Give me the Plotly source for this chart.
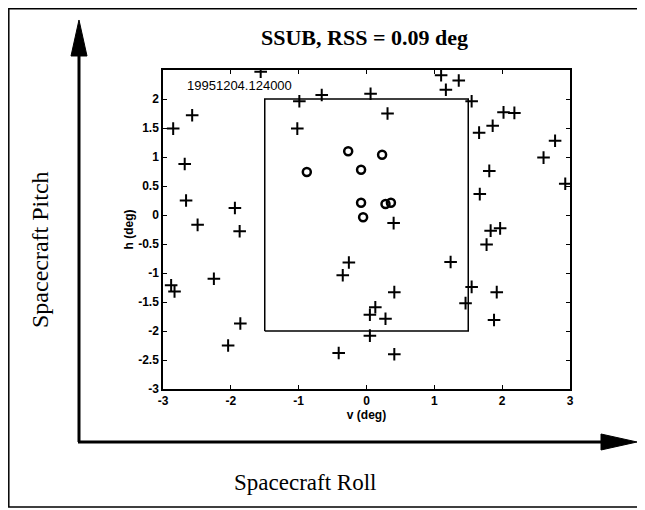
import plotly.graph_objects as go

# ---- data ----
plus_v = [-1.56, 1.10, 1.36, 1.17, -0.99, -0.66, 0.06, 0.31, 1.55, 2.02, 2.18, 1.86, 1.66,
          2.78, 2.61, 1.81, 2.93, 1.67, 0.40, 1.83, 1.97, 1.77, 1.24, 1.55, 0.41, 1.92,
          1.46, 0.13, 0.05, 0.28, 1.88, 0.05, 0.41, -0.41, -0.26, -0.35, -2.25, -2.88,
          -2.83, -1.86, -2.04, -2.57, -2.85, -1.02, -2.68, -2.66, -1.94, -2.49, -1.87]
plus_h = [2.47, 2.41, 2.32, 2.16, 1.96, 2.07, 2.09, 1.75, 1.96, 1.77, 1.76, 1.54, 1.42,
          1.28, 0.99, 0.76, 0.54, 0.36, -0.14, -0.27, -0.23, -0.51, -0.81, -1.24, -1.33, -1.33,
          -1.52, -1.59, -1.72, -1.79, -1.81, -2.08, -2.40, -2.38, -0.82, -1.04, -1.10, -1.21,
          -1.32, -1.87, -2.25, 1.72, 1.49, 1.49, 0.88, 0.25, 0.12, -0.17, -0.28]
circ_v = [-0.27, 0.23, -0.88, -0.08, -0.08, 0.28, 0.36, -0.05]
circ_h = [1.10, 1.04, 0.74, 0.78, 0.21, 0.19, 0.21, -0.04]
box_v = [-1.5, 1.5, 1.5, -1.5, -1.5]
box_h = [-2.0, -2.0, 2.0, 2.0, -2.0]
x_ticks = [-3, -2, -1, 0, 1, 2, 3]
y_ticks = [-3, -2.5, -2, -1.5, -1, -0.5, 0, 0.5, 1, 1.5, 2]
y_ticklabels = ["-3", "-2.5", "-2", "-1.5", "-1", "-0.5", "0", "0.5", "1", "1.5", "2"]
title_text = "SSUB, RSS = 0.09 deg"
stamp_text = "19951204.124000"

# ---- layout geometry (window pixels; page body has an 8px margin) ----
OFF = 8
W, H = 645 - OFF, 510 - OFF
L, R, T, B = 163, 570, 70, 389   # plot area in window pixels


def P(x, y):
    return (x - L) / (R - L), (B - y) / (B - T)


def path(pts, close=False):
    s = ""
    for i, (x, y) in enumerate(pts):
        px, py = P(x, y)
        s += ("M" if i == 0 else "L") + f"{px:.5f},{py:.5f} "
    if close:
        s += "Z"
    return s


fig = go.Figure()
fig.add_trace(go.Scatter(x=box_v, y=box_h, mode="lines",
                         line=dict(color="black", width=1.5), hoverinfo="skip"))
fig.add_trace(go.Scatter(x=plus_v, y=plus_h, mode="markers",
                         marker=dict(symbol="cross-thin", size=9,
                                     line=dict(color="black", width=2))))
fig.add_trace(go.Scatter(x=circ_v, y=circ_h, mode="markers",
                         marker=dict(symbol="circle-open", size=8, color="black",
                                     line=dict(color="black", width=2.5))))

shapes = []
# outer frame
shapes.append(dict(type="path", xref="paper", yref="paper",
                   path=path([(8.8, 8.8), (643.5, 8.8), (643.5, 507), (8.8, 507)], close=True),
                   line=dict(color="black", width=1.5)))
# vertical arrow
shapes.append(dict(type="path", xref="paper", yref="paper",
                   path=path([(79, 442), (79, 50)]),
                   line=dict(color="black", width=3)))
shapes.append(dict(type="path", xref="paper", yref="paper",
                   path=path([(79, 20), (71, 56), (87, 56)], close=True),
                   fillcolor="black", line=dict(color="black", width=1)))
# horizontal arrow
shapes.append(dict(type="path", xref="paper", yref="paper",
                   path=path([(78, 442), (608, 442)]),
                   line=dict(color="black", width=3)))
shapes.append(dict(type="path", xref="paper", yref="paper",
                   path=path([(637, 442), (601, 434), (601, 450)], close=True),
                   fillcolor="black", line=dict(color="black", width=1)))

serif = "Liberation Serif, Times New Roman, serif"
sans = "Liberation Sans, Arial, sans-serif"

annotations = []
tx, ty = P(364, 38)
annotations.append(dict(x=tx, y=ty, xref="paper", yref="paper", text="<b>" + title_text + "</b>",
                        xanchor="center", yanchor="middle", showarrow=False,
                        font=dict(family=serif, size=22, color="black")))
px_, py_ = P(40, 250)
annotations.append(dict(x=px_, y=py_, xref="paper", yref="paper", text="Spacecraft Pitch",
                        textangle=-90, xanchor="center", yanchor="middle", showarrow=False,
                        font=dict(family=serif, size=24, color="black")))
rx, ry = P(305, 482)
annotations.append(dict(x=rx, y=ry, xref="paper", yref="paper", text="Spacecraft Roll",
                        xanchor="center", yanchor="middle", showarrow=False,
                        font=dict(family=serif, size=23, color="black")))
annotations.append(dict(x=-2.67, y=2.24, xref="x", yref="y", text=stamp_text,
                        xanchor="left", yanchor="middle", showarrow=False,
                        font=dict(family=sans, size=13, color="black")))

axis_common = dict(showline=True, linecolor="black", linewidth=1.5, mirror="ticks",
                   ticks="inside", ticklen=4, tickwidth=1, tickcolor="black",
                   showgrid=False, zeroline=False,
                   tickfont=dict(family=sans, size=12, color="black", weight="bold"))

fig.update_layout(
    width=W, height=H,
    margin=dict(l=L - OFF, r=W - (R - OFF), t=T - OFF, b=H - (B - OFF)),
    paper_bgcolor="white", plot_bgcolor="white",
    showlegend=False,
    shapes=shapes, annotations=annotations,
    xaxis=dict(range=[-3, 3], tickvals=x_ticks, ticktext=[str(v) for v in x_ticks],
               title=dict(text="v (deg)", standoff=3,
                          font=dict(family=sans, size=12, color="black", weight="bold")),
               **axis_common),
    yaxis=dict(range=[-3, 2.5], tickvals=y_ticks, ticktext=y_ticklabels,
               title=dict(text="h (deg)", standoff=2,
                          font=dict(family=sans, size=12, color="black", weight="bold")),
               **axis_common),
)

fig.write_html("out.html")
